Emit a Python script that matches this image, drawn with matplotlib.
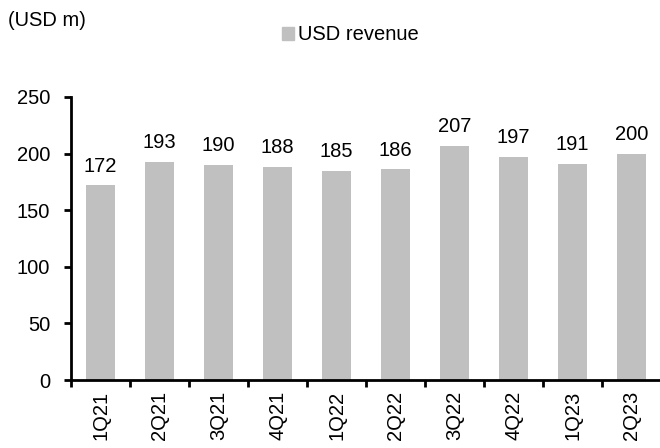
import matplotlib
matplotlib.use("Agg")
import matplotlib.pyplot as plt
from matplotlib.patches import Patch

categories = ["1Q21", "2Q21", "3Q21", "4Q21", "1Q22", "2Q22", "3Q22", "4Q22", "1Q23", "2Q23"]
revenue = [172, 193, 190, 188, 185, 186, 207, 197, 191, 200]

FS = 14.5
plt.rcParams['font.family'] = ['Liberation Sans', 'DejaVu Sans']
fig = plt.figure(figsize=(6.6, 4.48), dpi=100)
ax = fig.add_axes([71/660, 1-380/448, 590/660, (380-97)/448])

x = list(range(len(categories)))
bars = ax.bar(x, revenue, width=0.5, color="#C0C0C0")
for xi, v in zip(x, revenue):
    ax.annotate(str(v), (xi, v), xytext=(0, 7), textcoords="offset points",
                ha="center", va="bottom", fontsize=FS)

ax.set_xlim(-0.5, len(categories) - 0.5)
ax.set_ylim(0, 250)
ax.set_yticks([0, 50, 100, 150, 200, 250])
ax.set_xticks([i - 0.5 for i in range(len(categories) + 1)])
ax.set_xticklabels([])
ax.set_xticks(x, minor=True)
ax.set_xticklabels(categories, minor=True, rotation=90, fontsize=FS)
ax.tick_params(axis="x", which="minor", length=0, pad=8)
ax.tick_params(axis="x", which="major", direction="out", length=5, width=2)
ax.tick_params(axis="y", direction="out", length=5, width=2, labelsize=FS, pad=10)
for s in ["top", "right"]:
    ax.spines[s].set_visible(False)
for s in ["left", "bottom"]:
    ax.spines[s].set_linewidth(2)

fig.text(8/660, 1-20/448, "(USD m)", fontsize=FS, ha="left", va="center")
fig.legend(handles=[Patch(color="#C0C0C0", label="USD revenue")],
           loc="center", bbox_to_anchor=(350/660, 1-35/448), frameon=False,
           fontsize=FS, handlelength=0.6, handleheight=0.6, handletextpad=0.2)

fig.savefig("out.png", dpi=100)
